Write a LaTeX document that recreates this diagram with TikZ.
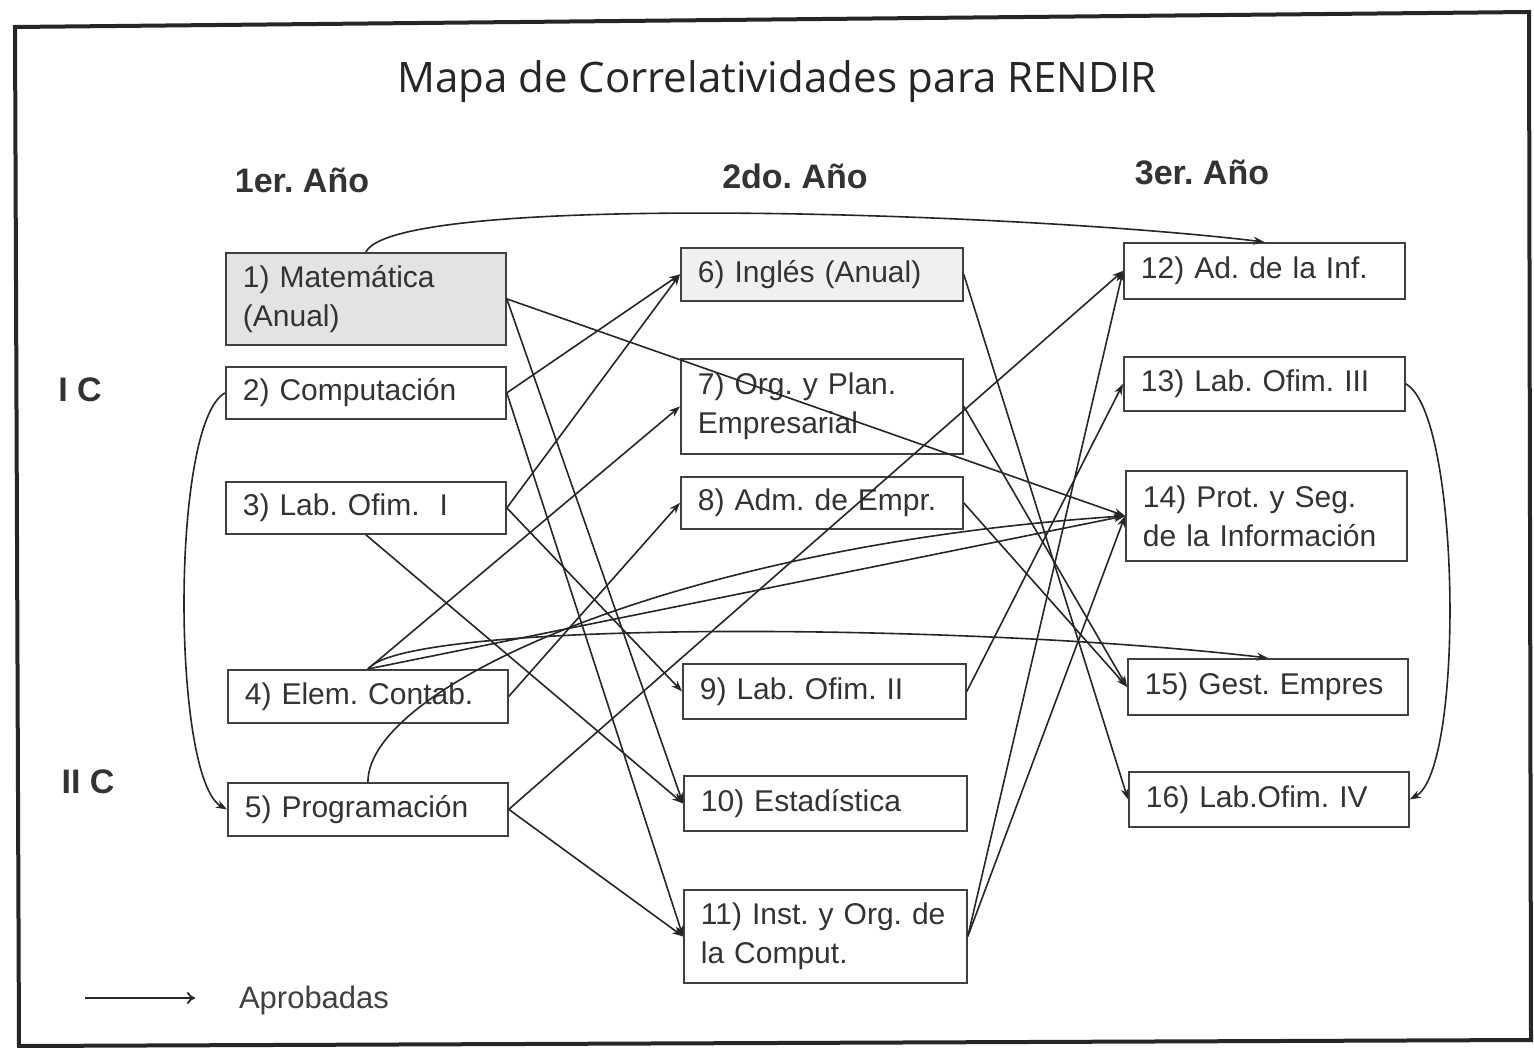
\documentclass[tikz,border=0pt]{standalone}
\usepackage{fontspec}
\setmainfont{Liberation Sans}
\newfontfamily\titlefont{Open Sans}
\usetikzlibrary{arrows.meta,calc}
\begin{document}
\frenchspacing
\begin{tikzpicture}[x=1pt,y=-1pt,
  box/.style={draw=black!75, line width=1.8pt, anchor=north west, inner xsep=17pt, inner ysep=0pt,
    text width=246pt, align=left, font=\fontsize{30}{39}\selectfont, text=black!80},
  conn/.style={draw=black!85, line width=1.6pt, -{Stealth[length=11pt,width=8pt]}},
  hdr/.style={font=\bfseries\fontsize{34}{38}\selectfont, text=black!80},
  lbl/.style={font=\fontsize{31}{34}\selectfont, text=black!75}]
\useasboundingbox (0,0) rectangle (1534,1048);
\fill[white] (0,0) rectangle (1534,1048);
% frame
\draw[line width=4pt, black!85] (15,27) -- (1529,12) -- (1531,1040) -- (19,1046) -- cycle;
% title and headers
\node[font=\titlefont\fontsize{42}{48}\selectfont, text=black!85] (title) at (777,82) {Mapa de Correlatividades para RENDIR};
\node[hdr] (h1) at (302,180) {1er. Año};
\node[hdr] (h2) at (795,176) {2do. Año};
\node[hdr] (h3) at (1202,172) {3er. Año};
\node[hdr] (c1) at (80,390) {I C};
\node[hdr] (c2) at (88,782) {II C};
% boxes
\node[box, fill=gray!22, minimum height=92pt] (n1) at (225,252) {1) Matemática\\(Anual)};
\node[box, minimum height=52pt] (n2) at (225,366) {2) Computación};
\node[box, minimum height=52pt] (n3) at (225,481) {3) Lab. Ofim.\ \ I};
\node[box, minimum height=53pt] (n4) at (227,669) {4) Elem. Contab.};
\node[box, minimum height=53pt] (n5) at (227,782) {5) Programación};
\node[box, fill=gray!12, minimum height=53pt, text width=248pt] (n6) at (680,247) {6) Inglés (Anual)};
\node[box, minimum height=95pt, text width=248pt] (n7) at (680,358) {7) Org. y Plan.\\Empresarial};
\node[box, minimum height=52pt, text width=248pt] (n8) at (680,476) {8) Adm. de Empr.};
\node[box, minimum height=55pt, text width=249pt] (n9) at (682,663) {9) Lab. Ofim. II};
\node[box, minimum height=55pt, text width=249pt] (n10) at (683,775) {10) Estadística};
\node[box, minimum height=93pt, text width=249pt] (n11) at (683,889) {11) Inst. y Org. de\\la Comput.};
\node[box, minimum height=56pt, text width=247pt] (n12) at (1123,242) {12) Ad. de la Inf.};
\node[box, minimum height=54pt, text width=247pt] (n13) at (1123,356) {13) Lab. Ofim. III};
\node[box, minimum height=90pt, text width=247pt] (n14) at (1125,470) {14) Prot. y Seg.\\de la Información};
\node[box, minimum height=56pt, text width=246pt] (n15) at (1127,658) {15) Gest. Empres};
\node[box, minimum height=55pt, text width=246pt] (n16) at (1128,771) {16) Lab.Ofim. IV};
% curved connectors
\draw[conn] (n1.north) .. controls +(30,-60) and +(-250,-30) .. (n12.north);
\draw[conn] (n4.north) .. controls +(40,-50) and +(-300,-35) .. (n15.north);
\draw[conn] (n2.west) .. controls +(-55,30) and +(-55,-30) .. (n5.west);
\draw[conn] (n13.east) .. controls +(55,30) and +(55,-30) .. (n16.east);
\draw[conn] (n5.north) .. controls +(0,-95) and +(-450,30) .. (n14.west);
% straight connectors
\draw[conn] (n1.east) -- (n14.west);
\draw[conn] (n1.east) -- (n10.west);
\draw[conn] (n2.east) -- (n6.west);
\draw[conn] (n2.east) -- (n11.west);
\draw[conn] (n3.east) -- (n6.west);
\draw[conn] (n3.east) -- (n9.west);
\draw[conn] (n3.south) -- (n10.west);
\draw[conn] (n4.north) -- (n7.west);
\draw[conn] (n4.north) -- (n14.west);
\draw[conn] (n4.east) -- (n8.west);
\draw[conn] (n5.east) -- (n12.west);
\draw[conn] (n5.east) -- (n11.west);
\draw[conn] (n6.east) -- (n16.west);
\draw[conn] (n7.east) -- (n15.west);
\draw[conn] (n8.east) -- (n15.west);
\draw[conn] (n9.east) -- (n13.west);
\draw[conn] (n11.east) -- (n12.west);
\draw[conn] (n11.east) -- (n14.west);
% legend
\coordinate (la) at (85,998);
\coordinate (lb) at (195,998);
\draw[draw=black!85, line width=1.8pt, -{To[length=8pt,width=12pt]}] (la) -- (lb);
\node[lbl] (leg) at (314,1000) {Aprobadas};
\end{tikzpicture}
\end{document}
